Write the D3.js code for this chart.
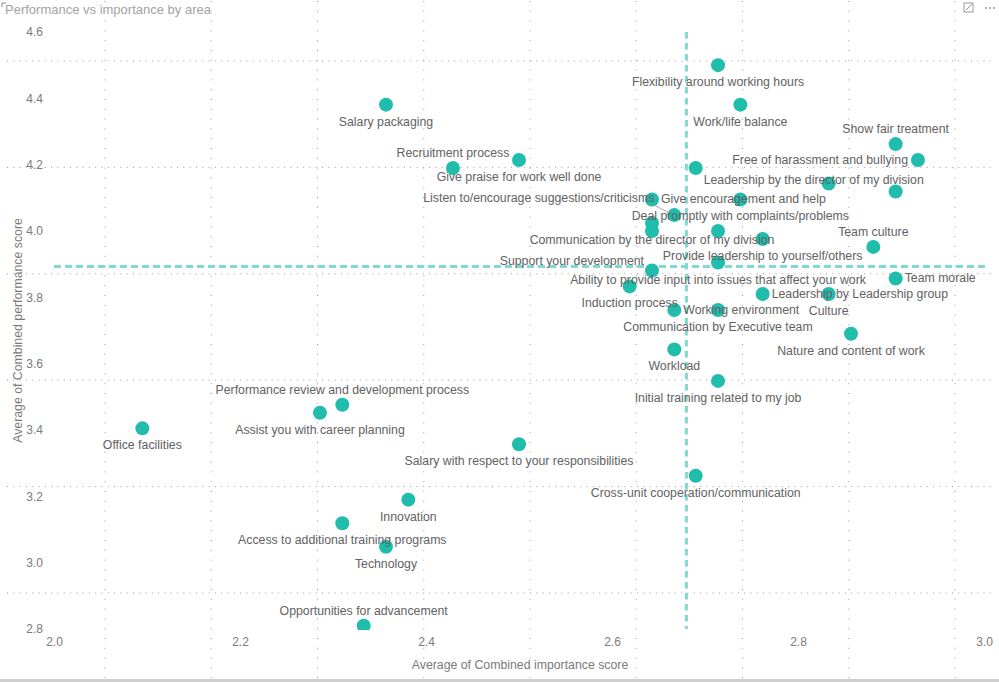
<!DOCTYPE html>
<html>
<head>
<meta charset="utf-8">
<script src="https://cdn.jsdelivr.net/npm/d3@7/dist/d3.min.js"></script>
<style>
  html, body { margin: 0; padding: 0; background: #ffffff; }
  svg { display: block; }
</style>
</head>
<body>
<svg id="chart" width="999" height="682"></svg>
<script>
// ---------------- DATA ----------------
const categories = [
  "Flexibility around working hours",
  "Work/life balance",
  "Salary packaging",
  "Show fair treatment",
  "Free of harassment and bullying",
  "Give praise for work well done",
  "Recruitment process",
  "Leadership by the director of my division",
  "",
  "",
  "Give encouragement and help",
  "Deal promptly with complaints/problems",
  "Listen to/encourage suggestions/criticisms",
  "Communication by the director of my division",
  "",
  "",
  "Provide leadership to yourself/others",
  "Team culture",
  "Ability to provide input into issues that affect your work",
  "Support your development",
  "Induction process",
  "Team morale",
  "Leadership by Leadership group",
  "Culture",
  "Working environment",
  "Communication by Executive team",
  "Nature and content of work",
  "Workload",
  "Initial training related to my job",
  "Performance review and development process",
  "Assist you with career planning",
  "Office facilities",
  "Salary with respect to your responsibilities",
  "Cross-unit cooperation/communication",
  "Innovation",
  "Access to additional training programs",
  "Technology",
  "Opportunities for advancement"
];
const importance = [
  2.714, 2.738, 2.357, 2.905, 2.929, 2.500, 2.429, 2.690, 2.833, 2.905,
  2.643, 2.738, 2.667, 2.643, 2.643, 2.714, 2.762, 2.881, 2.714, 2.643,
  2.619, 2.905, 2.762, 2.833, 2.667, 2.714, 2.857, 2.667, 2.714, 2.310,
  2.286, 2.095, 2.500, 2.690, 2.381, 2.310, 2.357, 2.333
];
const performance = [
  4.500, 4.381, 4.381, 4.262, 4.214, 4.214, 4.190, 4.190, 4.143, 4.119,
  4.095, 4.095, 4.048, 4.024, 4.000, 4.000, 3.976, 3.952, 3.905, 3.881,
  3.833, 3.857, 3.810, 3.810, 3.762, 3.762, 3.690, 3.643, 3.548, 3.476,
  3.452, 3.405, 3.357, 3.262, 3.190, 3.119, 3.048, 2.810
];
// label placement relative to its point (b=below, t=above, l=left, r=right, br, tl, lead=leader line, none)
const labelPlacement = [
  "b","b","b","t","l","b","t","br","none","none",
  "r","b","lead","b","none","none","b","t","b","tl",
  "b","r","r","b","r","b","b","b","b","t",
  "b","b","b","b","b","b","b","t"
];
const avgImportance = 2.680;
const avgPerformance = 3.893;
const xTicks = [2.0, 2.2, 2.4, 2.6, 2.8, 3.0];
const yTicks = [2.8, 3.0, 3.2, 3.4, 3.6, 3.8, 4.0, 4.2, 4.4, 4.6];
const chartTitle = "Performance vs importance by area";
const xTitle = "Average of Combined importance score";
const yTitle = "Average of Combined performance score";

// ---------------- DRAW ----------------
const W = 999, H = 682;
const svg = d3.select("#chart");
const FONT = "'Liberation Sans', Arial, sans-serif";

// canvas dotted grid (report background)
const gridV = d3.range(9).map(i => 105 + i * 106.25);
const gridH = d3.range(6).map(i => 61 + i * 106.4);
const bg = svg.append("g");
bg.selectAll("line.gv").data(gridV).join("line")
  .attr("x1", d => d).attr("x2", d => d).attr("y1", 1).attr("y2", H - 3)
  .attr("stroke", "#9a9a9a").attr("stroke-width", 1).attr("stroke-dasharray", "1,8.8");
bg.selectAll("line.gh").data(gridH).join("line")
  .attr("x1", 7).attr("x2", 994).attr("y1", d => d).attr("y2", d => d)
  .attr("stroke", "#9a9a9a").attr("stroke-width", 1).attr("stroke-dasharray", "1,5.3");

// bottom border of the visual
svg.append("line").attr("x1", 0).attr("x2", W).attr("y1", 680.5).attr("y2", 680.5)
  .attr("stroke", "#cfcfcf").attr("stroke-width", 3);

const x = d3.scaleLinear().domain([2, 3]).range([54, 984]);
const y = d3.scaleLinear().domain([2.8, 4.6]).range([629, 32]);

// title
svg.append("text").attr("x", 5).attr("y", 14)
  .attr("font-family", FONT).attr("font-size", 13).attr("fill", "#a3a3a3")
  .text(chartTitle);

// top-right icons
const ic = svg.append("g").attr("stroke", "#9a9a9a").attr("fill", "none");
ic.append("rect").attr("x", 964).attr("y", 3).attr("width", 9).attr("height", 9);
ic.append("line").attr("x1", 966).attr("y1", 10).attr("x2", 972).attr("y2", 4);
[986, 990, 994].forEach(cx => svg.append("circle").attr("cx", cx).attr("cy", 8).attr("r", 0.9).attr("fill", "#8a8a8a"));
svg.append("path").attr("d", "M2,7 V3 H6").attr("stroke", "#888").attr("fill", "none");

// axes
const xAxis = svg.append("g").attr("transform", "translate(0,634)")
  .call(d3.axisBottom(x).tickValues(xTicks).tickFormat(d3.format(".1f")).tickSize(0));
xAxis.select(".domain").remove();
xAxis.selectAll("text").attr("font-family", FONT).attr("font-size", 12).attr("fill", "#7a7a7a");

const yAxis = svg.append("g").attr("transform", "translate(43,0)")
  .call(d3.axisLeft(y).tickValues(yTicks).tickFormat(d3.format(".1f")).tickSize(0).tickPadding(0));
yAxis.select(".domain").remove();
yAxis.selectAll("text").attr("font-family", FONT).attr("font-size", 12).attr("fill", "#7a7a7a");

// axis titles
svg.append("text").attr("x", 520).attr("y", 669).attr("text-anchor", "middle")
  .attr("font-family", FONT).attr("font-size", 12.3).attr("fill", "#7a7a7a").text(xTitle);
svg.append("text").attr("transform", "translate(22,330.5) rotate(-90)").attr("text-anchor", "middle")
  .attr("font-family", FONT).attr("font-size", 12.3).attr("fill", "#7a7a7a").text(yTitle);

// clip
svg.append("clipPath").attr("id", "plotclip").append("rect")
  .attr("x", 40).attr("y", 20).attr("width", 960).attr("height", 610);

// reference lines
svg.append("line").attr("x1", x(avgImportance)).attr("x2", x(avgImportance))
  .attr("y1", y(4.6)).attr("y2", y(2.8))
  .attr("stroke", "#7fdad1").attr("stroke-width", 3).attr("stroke-dasharray", "6.5,4.5");
svg.append("line").attr("x1", x(2)).attr("x2", 986)
  .attr("y1", y(avgPerformance)).attr("y2", y(avgPerformance))
  .attr("stroke", "#7fdad1").attr("stroke-width", 3).attr("stroke-dasharray", "7,4");

const data = categories.map((c, i) => ({ c, xi: importance[i], yi: performance[i], p: labelPlacement[i] }));

// points
svg.append("g").attr("clip-path", "url(#plotclip)")
  .selectAll("circle").data(data).join("circle")
  .attr("cx", d => x(d.xi)).attr("cy", d => y(d.yi)).attr("r", 7)
  .attr("fill", "#20bdad");

// labels
const lab = svg.append("g").attr("font-family", FONT).attr("font-size", 12.3).attr("fill", "#626262");
data.forEach(d => {
  if (d.p === "none" || !d.c) return;
  const px = x(d.xi), py = y(d.yi);
  let tx = px, ty = py, anchor = "middle";
  switch (d.p) {
    case "b": ty = py + 17; break;
    case "t": ty = py - 15; break;
    case "l": tx = px - 10; anchor = "end"; break;
    case "r": tx = px + 9; anchor = "start"; break;
    case "br": tx = px + 8; ty = py + 12; anchor = "start"; break;
    case "tl": tx = px - 8; ty = py - 9; anchor = "end"; break;
    case "lead":
      tx = px - 20; ty = py - 17; anchor = "end";
      lab.append("line").attr("x1", px - 20).attr("y1", py - 10).attr("x2", px - 5).attr("y2", py - 2)
        .attr("stroke", "#aaaaaa").attr("stroke-width", 1);
      break;
  }
  lab.append("text").attr("x", tx).attr("y", ty).attr("text-anchor", anchor)
    .attr("dominant-baseline", "central").text(d.c);
});
</script>
</body>
</html>
